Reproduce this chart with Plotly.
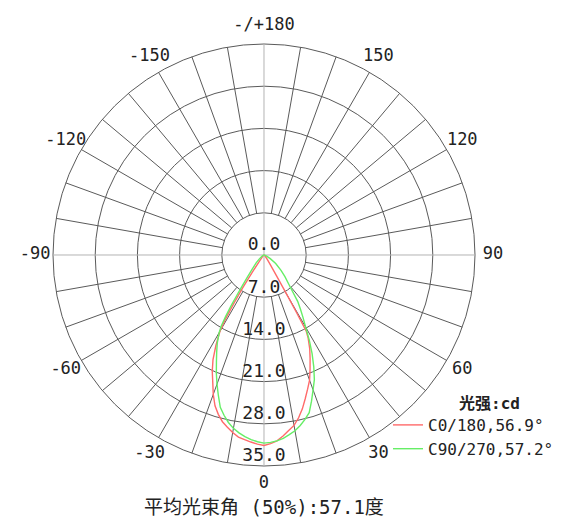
import plotly.graph_objects as go

# C0/180 plane: angle (deg, 0 = nadir, + toward C0) and intensity (cd)
c0_theta = [-90, -60, -50, -40, -36, -34, -33, -32, -31, -30, -28, -26, -24, -22,
            -20, -18, -16, -14, -12, -10, -8, -6, -4, -2, 0, 2, 4, 6, 8, 10, 12,
            14, 16, 18, 20, 22, 24, 26, 28, 29, 29.5, 30, 31, 33, 36, 45, 60, 90]
c0_cd = [0, 0.1, 0.2, 0.6, 1.5, 3.5, 6.5, 9.5, 12.5, 14.6, 17.0, 19.3, 21.1, 22.7,
         24.6, 26.3, 27.5, 28.5, 29.2, 29.9, 30.5, 30.8, 31.1, 31.4, 31.6, 31.3,
         30.9, 30.2, 29.4, 28.7, 27.6, 26.3, 24.8, 23.4, 22.1, 20.4, 18.8, 17.3,
         15.6, 14.5, 11.0, 7.5, 4.0, 2.0, 1.0, 0.3, 0.1, 0]

# C90/270 plane
c90_theta = [-90, -75, -60, -50, -45, -40, -37, -35, -34, -33, -32, -31, -30, -28,
             -26, -24, -22, -20, -18, -16, -14, -12, -10, -8, -6, -4, -2, 0, 2, 4,
             6, 8, 10, 12, 14, 16, 18, 20, 22, 24, 26, 28, 30, 32, 34, 36, 40, 44,
             48, 54, 60, 70, 80, 90]
c90_cd = [0, 0.1, 0.4, 1.0, 1.8, 3.0, 4.5, 6.5, 8.0, 10.0, 12.0, 13.8, 14.9, 16.5,
          17.9, 19.4, 21.1, 22.8, 24.5, 26.3, 27.4, 28.4, 29.2, 29.8, 30.3, 30.7,
          31.0, 31.2, 31.1, 30.9, 30.6, 30.1, 29.6, 28.9, 28.1, 27.2, 25.5, 23.8,
          22.3, 20.3, 18.2, 16.0, 13.8, 12.2, 10.8, 9.5, 6.5, 5.0, 3.8, 2.4, 1.2,
          0.4, 0.1, 0]

ring_values = [0, 7, 14, 21, 28, 35]
angle_ticks = [0, 30, 60, 90, 120, 150, 180, 210, 240, 270, 300, 330]
angle_labels = ["0", "30", "60", "90", "120", "150", "-/+180",
                "-150", "-120", "-90", "-60", "-30"]

legend_names = ["C0/180,56.9°", "C90/270,57.2°"]
legend_title = "光强:cd"
footer = "平均光束角 (50%):57.1度"

FONT = "DejaVu Sans Mono, Noto Sans CJK SC"
TEXT_COLOR = "#222222"
GRID = "#5a5a5a"
R_MAX = ring_values[-1]
R_INNER = ring_values[1]
LABEL_R = R_MAX * 1.085          # angle labels just outside the rim
R_AXIS = R_MAX * 1.115           # radial range leaves room for those labels

# geometry of the plotting area (pixels)
CX, CY, RIM_PX = 264, 255, 211
W, H = 563, 520
half = RIM_PX * R_AXIS / R_MAX

fig = go.Figure()

# radial spokes every 10 degrees, starting at the first ring
sp_t, sp_r = [], []
for a in range(0, 360, 10):
    if a % 90:
        sp_t += [a, a, None]
        sp_r += [R_INNER, R_MAX, None]
fig.add_trace(go.Scatterpolar(theta=sp_t, r=sp_r, mode="lines",
                              line=dict(color=GRID, width=1),
                              hoverinfo="skip", showlegend=False))

# main cross axes through the centre
fig.add_trace(go.Scatterpolar(theta=[0, 0, 180, None, 90, 90, 270],
                              r=[R_MAX, 0, R_MAX, None, R_MAX, 0, R_MAX],
                              mode="lines", line=dict(color="#b4b4b4", width=1),
                              hoverinfo="skip", showlegend=False))

fig.add_trace(go.Scatterpolar(theta=c0_theta, r=c0_cd, mode="lines",
                              name=legend_names[0],
                              line=dict(color="#ff6a6a", width=1.4)))
fig.add_trace(go.Scatterpolar(theta=c90_theta, r=c90_cd, mode="lines",
                              name=legend_names[1],
                              line=dict(color="#66ee66", width=1.4)))

# ring value labels along the 0 degree direction
fig.add_trace(go.Scatterpolar(theta=[0] * len(ring_values), r=ring_values,
                              mode="text",
                              text=[f"{v:.1f}" for v in ring_values],
                              textposition="top center",
                              marker=dict(size=1),
                              textfont=dict(family=FONT, size=18, color=TEXT_COLOR),
                              hoverinfo="skip", showlegend=False))

# angle labels around the rim
fig.add_trace(go.Scatterpolar(theta=angle_ticks, r=[LABEL_R] * len(angle_ticks),
                              mode="text", text=angle_labels,
                              textposition="middle center", cliponaxis=False,
                              textfont=dict(family=FONT, size=17, color=TEXT_COLOR),
                              hoverinfo="skip", showlegend=False))

fig.update_layout(
    width=W, height=H,
    margin=dict(l=0, r=0, t=0, b=0),
    paper_bgcolor="white",
    font=dict(family=FONT, color=TEXT_COLOR),
    polar=dict(
        domain=dict(x=[(CX - half) / W, (CX + half) / W],
                    y=[1 - (CY + half) / H, 1 - (CY - half) / H]),
        bgcolor="white",
        radialaxis=dict(range=[0, R_AXIS], tickvals=ring_values[1:],
                        showticklabels=False, ticks="", showline=False,
                        gridcolor=GRID, gridwidth=1),
        angularaxis=dict(rotation=270, direction="counterclockwise",
                         tickvals=angle_ticks, showticklabels=False,
                         showgrid=False, ticks="", showline=False),
    ),
    legend=dict(x=388 / W, xanchor="left", y=1 - 408 / H, yanchor="top",
                bgcolor="rgba(0,0,0,0)", itemwidth=30,
                font=dict(family=FONT, size=16, color=TEXT_COLOR)),
    annotations=[
        dict(text="<b>" + legend_title + "</b>", x=489 / W, y=1 - 403 / H,
             xref="paper", yref="paper", showarrow=False,
             xanchor="center", yanchor="middle",
             font=dict(family=FONT, size=16, color=TEXT_COLOR)),
        dict(text=footer, x=CX / W, y=1 - 507 / H,
             xref="paper", yref="paper", showarrow=False,
             xanchor="center", yanchor="middle",
             font=dict(family=FONT, size=19, color=TEXT_COLOR)),
    ],
)

fig.write_html("out.html")
